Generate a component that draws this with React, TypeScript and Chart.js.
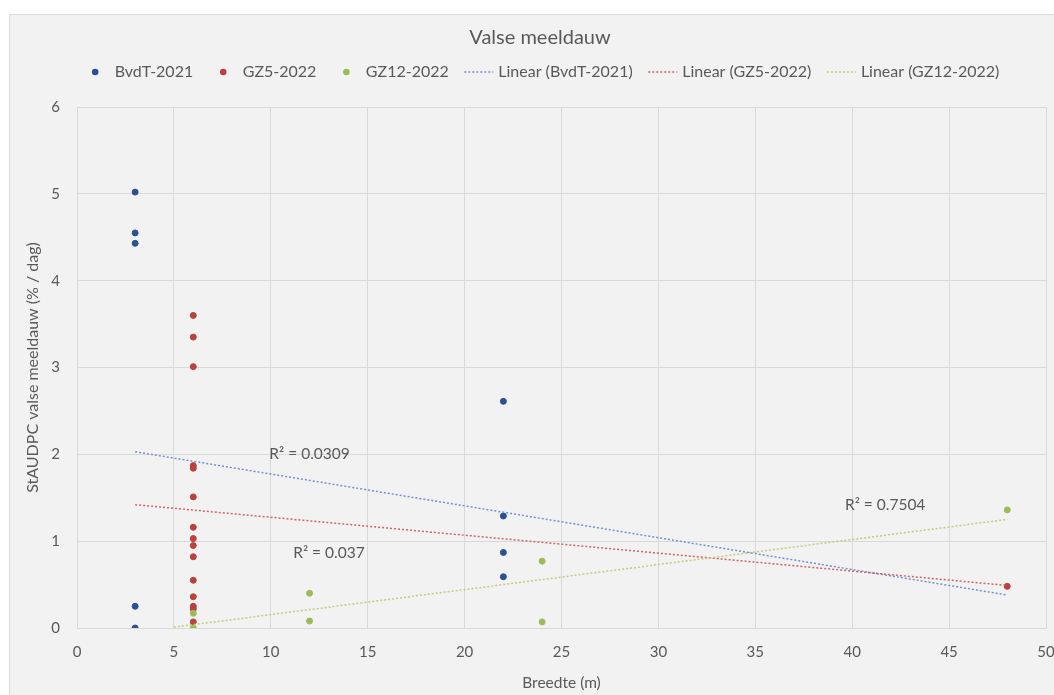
import React, { useEffect, useRef } from "react";
import { Chart, registerables } from "chart.js";

Chart.register(...registerables);

// ---- texts ----
const TITLE = "Valse meeldauw";
const X_TITLE = "Breedte (m)";
const Y_TITLE = "StAUDPC valse meeldauw (% / dag)";
const SERIES_NAMES = ["BvdT-2021", "GZ5-2022", "GZ12-2022"];
const TREND_NAMES = ["Linear (BvdT-2021)", "Linear (GZ5-2022)", "Linear (GZ12-2022)"];

// ---- axis ranges / ticks ----
const X_MIN = 0;
const X_MAX = 50;
const X_STEP = 5;
const Y_MIN = 0;
const Y_MAX = 6;
const Y_STEP = 1;

// ---- series values ----
const bvdtX = [3, 3, 3, 3, 3, 22, 22, 22, 22];
const bvdtY = [5.02, 4.55, 4.43, 0.25, 0.0, 2.61, 1.29, 0.87, 0.59];

const gz5X = [6, 6, 6, 6, 6, 6, 6, 6, 6, 6, 6, 6, 6, 6, 6, 48];
const gz5Y = [3.6, 3.35, 3.01, 1.87, 1.84, 1.51, 1.16, 1.03, 0.95, 0.82, 0.55, 0.36, 0.25, 0.22, 0.07, 0.48];

const gz12X = [6, 6, 12, 12, 24, 24, 48];
const gz12Y = [0.17, 0.0, 0.4, 0.08, 0.77, 0.07, 1.36];

// ---- linear trend lines (end points as shown) ----
const trendBvdtX = [3, 48];
const trendBvdtY = [2.03, 0.38];
const trendGz5X = [3, 48];
const trendGz5Y = [1.42, 0.49];
const trendGz12X = [5, 48];
const trendGz12Y = [0.01, 1.25];

// ---- R² annotations (anchored in data coordinates) ----
const r2Texts = ["R² = 0.0309", "R² = 0.037", "R² = 0.7504"];
const r2AtX = [12.0, 13.0, 41.7];
const r2AtY = [2.0, 0.86, 1.42];

const POINT_COLORS = ["#2c5192", "#b9413f", "#9bbb59"];
const TREND_COLORS = ["#6f93cf", "#cf6466", "#c3c97c"];
const TEXT_COLOR = "#595959";
const GRID_COLOR = "#d9d9d9";
const FONT = "Lato";

const toXY = (xs: number[], ys: number[]) => xs.map((x, i) => ({ x, y: ys[i] }));

const overlayPlugin = {
  id: "overlay",
  afterDatasetsDraw(chart: any) {
    const ctx = chart.ctx;
    const xs = chart.scales.x;
    const ys = chart.scales.y;
    ctx.save();
    ctx.font = `15.5px ${FONT}`;
    ctx.fillStyle = TEXT_COLOR;
    ctx.textAlign = "center";
    ctx.textBaseline = "middle";
    r2Texts.forEach((t, i) => {
      ctx.fillText(t, xs.getPixelForValue(r2AtX[i]), ys.getPixelForValue(r2AtY[i]));
    });
    ctx.restore();
  },
  afterDraw(chart: any) {
    const ctx = chart.ctx;
    ctx.save();
    // title
    ctx.font = `20px ${FONT}`;
    ctx.fillStyle = TEXT_COLOR;
    ctx.textAlign = "center";
    ctx.textBaseline = "middle";
    ctx.fillText(TITLE, 530, 23);

    // legend
    const items = [
      ...SERIES_NAMES.map((n, i) => ({ label: n, color: POINT_COLORS[i], kind: "dot" })),
      ...TREND_NAMES.map((n, i) => ({ label: n, color: TREND_COLORS[i], kind: "line" })),
    ];
    ctx.font = `16px ${FONT}`;
    const marker = 33;
    const textGap = 3;
    const itemGap = 13.5;
    const widths = items.map((it) => marker + textGap + ctx.measureText(it.label).width);
    const total = widths.reduce((a, b) => a + b, 0) + itemGap * (items.length - 1);
    let x = 529 - total / 2;
    const y = 57;
    items.forEach((it, i) => {
      if (it.kind === "dot") {
        ctx.beginPath();
        ctx.fillStyle = it.color;
        ctx.arc(x + marker / 2, y, 3.3, 0, Math.PI * 2);
        ctx.fill();
      } else {
        ctx.beginPath();
        ctx.strokeStyle = it.color;
        ctx.lineWidth = 1.5;
        ctx.setLineDash([2, 2]);
        ctx.moveTo(x + 2, y);
        ctx.lineTo(x + marker - 2, y);
        ctx.stroke();
        ctx.setLineDash([]);
      }
      ctx.fillStyle = TEXT_COLOR;
      ctx.textAlign = "left";
      ctx.fillText(it.label, x + marker + textGap, y);
      x += widths[i] + itemGap;
    });
    ctx.restore();
  },
};

export default function App() {
  const canvasRef = useRef<HTMLCanvasElement | null>(null);

  useEffect(() => {
    if (!canvasRef.current) return;
    const pointDs = (i: number, xs: number[], ys: number[], order: number) => ({
      label: SERIES_NAMES[i],
      data: toXY(xs, ys),
      backgroundColor: POINT_COLORS[i],
      borderColor: POINT_COLORS[i],
      pointRadius: 3,
      pointBorderWidth: 1,
      pointHoverRadius: 3,
      showLine: false,
      order,
    });
    const trendDs = (i: number, xs: number[], ys: number[], order: number) => ({
      label: TREND_NAMES[i],
      data: toXY(xs, ys),
      borderColor: TREND_COLORS[i],
      backgroundColor: TREND_COLORS[i],
      borderWidth: 1.5,
      borderDash: [2, 2],
      pointRadius: 0,
      showLine: true,
      fill: false,
      order,
    });

    const chart = new Chart(canvasRef.current, {
      type: "scatter",
      data: {
        datasets: [
          pointDs(0, bvdtX, bvdtY, 6),
          pointDs(1, gz5X, gz5Y, 5),
          pointDs(2, gz12X, gz12Y, 4),
          trendDs(0, trendBvdtX, trendBvdtY, 3),
          trendDs(1, trendGz5X, trendGz5Y, 2),
          trendDs(2, trendGz12X, trendGz12Y, 1),
        ],
      },
      options: {
        animation: false,
        responsive: false,
        devicePixelRatio: 1,
        layout: { padding: { top: 92, right: 8, bottom: 0, left: 0 } },
        plugins: {
          legend: { display: false },
          title: { display: false },
          tooltip: { enabled: false },
        },
        scales: {
          x: {
            type: "linear",
            min: X_MIN,
            max: X_MAX,
            ticks: {
              stepSize: X_STEP,
              color: TEXT_COLOR,
              font: { family: FONT, size: 15 },
              padding: 15,
              maxRotation: 0,
            },
            grid: { color: GRID_COLOR, lineWidth: 1, drawTicks: false },
            border: { color: GRID_COLOR, width: 1 },
            title: {
              display: true,
              text: X_TITLE,
              color: TEXT_COLOR,
              font: { family: FONT, size: 15.5 },
              padding: { top: 0, bottom: 3 },
            },
            afterFit: (s: any) => {
              s.height = 67;
              s.paddingLeft = 0;
              s.paddingRight = 0;
            },
          },
          y: {
            type: "linear",
            min: Y_MIN,
            max: Y_MAX,
            ticks: {
              stepSize: Y_STEP,
              color: TEXT_COLOR,
              font: { family: FONT, size: 15 },
              padding: 17,
            },
            grid: { color: GRID_COLOR, lineWidth: 1, drawTicks: false },
            border: { color: GRID_COLOR, width: 1 },
            title: {
              display: true,
              text: Y_TITLE,
              color: TEXT_COLOR,
              font: { family: FONT, size: 16 },
              padding: { top: 13, bottom: 0 },
            },
            afterFit: (s: any) => {
              s.width = 67;
              s.paddingTop = 0;
              s.paddingBottom = 0;
            },
          },
        },
      },
      plugins: [overlayPlugin],
    } as any);
    return () => chart.destroy();
  }, []);

  return (
    <div
      style={{
        position: "absolute",
        left: 9,
        top: 14,
        width: 1045,
        height: 681,
        boxSizing: "border-box",
        background: "#f2f2f2",
        borderTop: "1px solid #dcdcdc",
        borderLeft: "1px solid #dcdcdc",
        overflow: "hidden",
      }}
    >
      <canvas ref={canvasRef} width={1044} height={680} style={{ display: "block" }} />
    </div>
  );
}
